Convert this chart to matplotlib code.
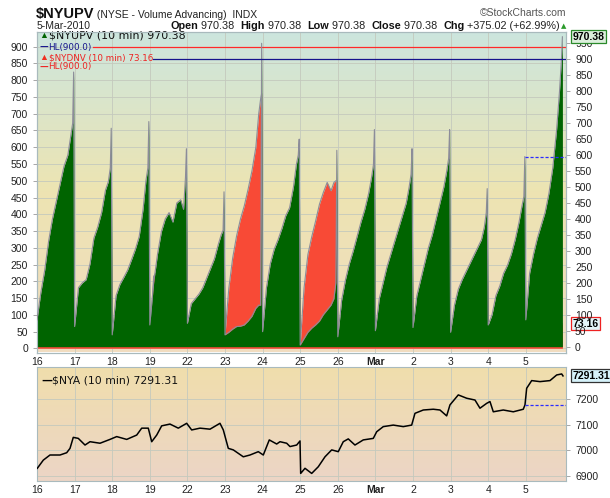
import numpy as np
import matplotlib.pyplot as plt
from matplotlib.colors import LinearSegmentedColormap

plt.rcParams['font.family'] = ['Liberation Sans', 'DejaVu Sans']

# trading days on the x axis
day_labels = ['16', '17', '18', '19', '22', '23', '24', '25', '26', 'Mar', '2', '3', '4', '5']

# 10-min bar index inside a session (39 bars/day) at which values were read
bar_idx = [0, 4, 8, 12, 16, 20, 24, 28, 32, 35, 37, 38]
BARS_PER_DAY = 39

# $NYUPV cumulative advancing volume, one row per day (right scale)
upv_days = [
    [84, 170, 240, 330, 400, 455, 510, 565, 600, 660, 700, 860],
    [63, 185, 200, 210, 260, 340, 375, 420, 490, 517, 560, 684],
    [37, 160, 195, 217, 240, 272, 305, 345, 430, 520, 560, 705],
    [68, 200, 290, 360, 400, 420, 390, 450, 460, 430, 530, 620],
    [73, 135, 150, 165, 185, 215, 245, 275, 320, 350, 365, 485],
    [37, 45, 55, 63, 64, 68, 80, 95, 120, 130, 130, 950],
    [47, 185, 260, 305, 335, 370, 410, 435, 500, 570, 600, 650],
    [5, 25, 45, 58, 68, 80, 100, 115, 130, 150, 200, 615],
    [31, 146, 210, 260, 300, 345, 390, 430, 480, 530, 570, 680],
    [50, 150, 200, 250, 290, 330, 370, 410, 450, 500, 540, 620],
    [60, 160, 210, 260, 310, 350, 400, 450, 500, 550, 590, 680],
    [45, 130, 180, 210, 235, 260, 285, 310, 335, 375, 420, 495],
    [68, 100, 160, 190, 230, 255, 290, 335, 390, 440, 470, 595.36],
    [84, 230, 290, 340, 380, 420, 480, 560, 680, 800, 900, 970.38],
]

# $NYDNV cumulative declining volume (left scale)
dnv_days = [
    [10, 60, 100, 140, 170, 200, 230, 260, 280, 300, 320, 380],
    [10, 90, 120, 150, 180, 220, 250, 280, 310, 330, 350, 420],
    [10, 80, 110, 140, 170, 200, 230, 260, 300, 330, 350, 420],
    [15, 215, 230, 250, 270, 290, 300, 320, 330, 340, 350, 400],
    [10, 60, 80, 100, 120, 140, 160, 180, 200, 220, 240, 300],
    [40, 180, 270, 335, 385, 425, 475, 530, 600, 700, 745, 760],
    [20, 80, 120, 150, 180, 210, 240, 270, 300, 340, 370, 420],
    [10, 180, 280, 333, 380, 430, 465, 495, 470, 495, 500, 500],
    [15, 70, 110, 150, 180, 210, 240, 270, 300, 330, 360, 420],
    [15, 70, 100, 130, 160, 190, 220, 250, 280, 310, 340, 400],
    [15, 70, 100, 130, 160, 190, 220, 250, 280, 310, 340, 400],
    [15, 60, 90, 110, 130, 150, 170, 190, 210, 230, 250, 300],
    [15, 50, 80, 100, 120, 140, 160, 180, 200, 220, 240, 290],
    [5, 20, 30, 40, 45, 50, 55, 60, 65, 70, 72, 73.16],
]

# $NYA (10 min), time in trading days from the 16th
nya_t = [0.008, 0.168, 0.346, 0.612, 0.790, 0.878, 0.965, 1.098, 1.277, 1.410,
         1.676, 1.941, 2.120, 2.386, 2.652, 2.785, 2.960, 3.051, 3.184, 3.316,
         3.537, 3.758, 3.981, 4.114, 4.335, 4.601, 4.867, 4.955, 5.088, 5.221,
         5.487, 5.665, 5.886, 6.019, 6.178, 6.375, 6.463, 6.641, 6.729, 6.907,
         6.995, 7.013, 7.128, 7.306, 7.481, 7.660, 7.838, 8.013, 8.146, 8.279,
         8.457, 8.678, 8.944, 9.035, 9.210, 9.476, 9.742, 9.965, 10.053, 10.274,
         10.540, 10.718, 10.896, 10.984, 11.205, 11.428, 11.649, 11.782, 11.960, 12.048,
         12.136, 12.402, 12.668, 12.934, 12.979, 13.024, 13.157, 13.378, 13.644, 13.822,
         13.955, 13.99]
nya_v = [6930, 6962, 6982, 6982, 6991, 7008, 7051, 7047, 7021, 7034,
         7028, 7043, 7054, 7043, 7060, 7087, 7087, 7034, 7060, 7096,
         7103, 7087, 7106, 7080, 7087, 7083, 7106, 7080, 7008, 7002,
         6975, 6982, 6995, 6982, 7041, 7025, 7034, 7028, 7015, 7021,
         7037, 6910, 6930, 6910, 6936, 6975, 7002, 6995, 7034, 7045,
         7021, 7041, 7047, 7073, 7093, 7099, 7093, 7099, 7145, 7158,
         7161, 7158, 7135, 7178, 7217, 7204, 7197, 7165, 7184, 7191,
         7151, 7158, 7151, 7161, 7178, 7243, 7273, 7269, 7273, 7295,
         7299, 7291.31]

upv_last, upv_prev = 970.38, 595.36
dnv_last = 73.16
nya_last, nya_prev = 7291.31, 7178
hl_level = 900.0


def day_series(days):
    xs, ys = [], []
    for d, vals in enumerate(days):
        for b, v in zip(bar_idx, vals):
            xs.append(d + b / BARS_PER_DAY)
            ys.append(v)
    return np.array(xs), np.array(ys)


W, H = 610, 498
fig = plt.figure(figsize=(W / 100, H / 100), dpi=100)
fig.patch.set_facecolor('white')


def px_box(x0, y0, x1, y1):
    return [x0 / W, 1 - y1 / H, (x1 - x0) / W, (y1 - y0) / H]


ax = fig.add_axes(px_box(37, 32, 566, 352.5))
ax2 = ax.twinx()
ax3 = fig.add_axes(px_box(37, 367.3, 566, 480.7), sharex=ax)

XMAX = 14.07
grad = np.linspace(0, 1, 256).reshape(-1, 1)
top_cmap = LinearSegmentedColormap.from_list('top', ['#f1dcc0', '#ede4b2', '#cce6de'])
bot_cmap = LinearSegmentedColormap.from_list('bot', ['#ecd5c6', '#f0deac'])
ax.imshow(grad, extent=[0, 1, 0, 1], transform=ax.transAxes, origin='lower',
          aspect='auto', cmap=top_cmap, zorder=0)
ax3.imshow(grad, extent=[0, 1, 0, 1], transform=ax3.transAxes, origin='lower',
           aspect='auto', cmap=bot_cmap, zorder=0)

xu, yu = day_series(upv_days)
xd, yd = day_series(dnv_days)

edge = '#8c8c99'
ax.fill_between(xd, 0, yd, color='#f84a36', lw=0, zorder=2)
ax.plot(xd, yd, color=edge, lw=0.8, zorder=3)
ax2.fill_between(xu, 0, yu, color='#006400', lw=0, zorder=2)
ax2.plot(xu, yu, color=edge, lw=0.8, zorder=3)

ax.axhline(hl_level, xmin=0.106, color='#ff2a2a', lw=0.9, zorder=4)
ax2.axhline(hl_level, xmin=0.219, color='#14148c', lw=0.9, zorder=4)
t_prev = len(upv_days) - 2 + bar_idx[-1] / BARS_PER_DAY
ax2.hlines(upv_prev, t_prev, XMAX, colors='#2b2bff', linestyles=(0, (2.5, 1.5)), lw=0.9, zorder=4)

ax3.plot(nya_t, nya_v, color='black', lw=1.1, zorder=3)
ax3.hlines(nya_prev, t_prev, XMAX, colors='#2b2bff', linestyles=(0, (2.5, 1.5)), lw=0.9, zorder=4)

ax.set_xlim(0, XMAX)
ax.set_ylim(-12.5, 943.9)
ax2.set_ylim(-18.2, 985.4)
ax3.set_ylim(6881.5, 7325)

gcol = '#c4c9bd'
ax.set_axisbelow(True)
ax.set_yticks(np.arange(0, 901, 50))
ax2.set_yticks(np.arange(0, 951, 50))
ax.grid(True, color=gcol, lw=0.6)
ax3.set_axisbelow(True)
ax3.set_yticks([6900, 7000, 7100, 7200])
ax3.grid(True, color=gcol, lw=0.6)
ax.set_xticks(range(len(day_labels)))
ax.set_xticklabels(day_labels)

for a in (ax, ax2, ax3):
    for s in a.spines.values():
        s.set_color('#a9babd')
        s.set_linewidth(0.8)
    a.tick_params(labelsize=7.5, labelcolor='#222222', color='#999999', length=3, width=0.6)
ax.tick_params(axis='x', length=0, pad=3)
ax3.tick_params(axis='x', length=0, pad=3, labelbottom=True)
ax3.tick_params(axis='y', left=False, labelleft=False, right=True, labelright=True)
for a in (ax, ax3):
    for lab in a.get_xticklabels():
        if lab.get_text() == 'Mar':
            lab.set_fontweight('bold')


def ax_pt(x, y):
    return (x - 37) / 529, (352.5 - y) / 320.5


# legends
big = dict(family='DejaVu Sans', fontsize=7.9, va='center', transform=ax.transAxes, zorder=6)
small = dict(family='DejaVu Sans', fontsize=6.3, va='center', transform=ax.transAxes, zorder=6)
ax.text(*ax_pt(39, 35.5), '\u25b2', color='#006400', fontsize=6.5, va='center', transform=ax.transAxes, zorder=6)
ax.text(*ax_pt(49, 35.5), f'$NYUPV (10 min) {upv_last:.2f}', color='#111111', **big)
ax.text(*ax_pt(39, 47.3), '\u2014', color='#14148c', fontweight='bold', **small)
ax.text(*ax_pt(48, 47.3), f'HL({hl_level:.1f})', color='#14148c', **small)
ax.text(*ax_pt(39, 57.5), '\u25b2', color='#f03020', fontsize=6.5, va='center', transform=ax.transAxes, zorder=6)
ax.text(*ax_pt(49, 57.5), f'$NYDNV (10 min) {dnv_last:.2f}', color='#ee2222', **small)
ax.text(*ax_pt(39, 67), '\u2014', color='#ee2222', fontweight='bold', **small)
ax.text(*ax_pt(48, 67), f'HL({hl_level:.1f})', color='#ee2222', **small)

ax3.text(0.008, 0.88, '\u2014', color='black', fontweight='bold', family='DejaVu Sans',
         fontsize=7.8, va='center', transform=ax3.transAxes)
ax3.text(0.028, 0.88, f'$NYA (10 min) {nya_last:.2f}', color='#111111', family='DejaVu Sans',
         fontsize=7.8, va='center', transform=ax3.transAxes)

# last value boxes
box = dict(fontsize=7.5, fontweight='bold', va='center', ha='left', textcoords='offset points',
           xytext=(4.5, 0), annotation_clip=False, zorder=8)
ax2.annotate(f'{upv_last:.2f}', xy=(1, upv_last), xycoords=('axes fraction', 'data'),
             bbox=dict(boxstyle='square,pad=0.15', fc='#dcefdc', ec='#2a8a2a', lw=0.9), **box)
ax.annotate(f'{dnv_last:.2f}', xy=(1, dnv_last), xycoords=('axes fraction', 'data'),
            bbox=dict(boxstyle='square,pad=0.15', fc='#e4f4f8', ec='#ee2222', lw=0.9), **box)
ax3.annotate(f'{nya_last:.2f}', xy=(1, nya_last), xycoords=('axes fraction', 'data'),
             bbox=dict(boxstyle='square,pad=0.15', fc='#d6f2fa', ec='#333333', lw=0.9), **box)

# header
renderer = fig.canvas.get_renderer()


def run(x, y, parts, right=False):
    items = []
    for txt, wt, col, sz in parts:
        t = fig.text(0, 1 - y / H, txt, fontweight=wt, color=col, fontsize=sz, va='baseline')
        w = t.get_window_extent(renderer).width
        items.append((t, w))
    total = sum(w for _, w in items)
    cx = x - total if right else x
    for t, w in items:
        t.set_x(cx / W)
        cx += w


run(36, 18, [('$NYUPV', 'bold', '#111111', 10.5),
             (' (NYSE - Volume Advancing)  INDX', 'normal', '#222222', 7.5)])
run(566, 16, [('\u00a9StockCharts.com', 'normal', '#555555', 7.5)], right=True)
run(37, 29, [('5-Mar-2010', 'normal', '#222222', 7.5)])
hs = 7.8
run(560, 29, [('Open', 'bold', '#111111', hs), (' 970.38  ', 'normal', '#222222', hs),
              ('High', 'bold', '#111111', hs), (' 970.38  ', 'normal', '#222222', hs),
              ('Low', 'bold', '#111111', hs), (' 970.38  ', 'normal', '#222222', hs),
              ('Close', 'bold', '#111111', hs), (' 970.38  ', 'normal', '#222222', hs),
              ('Chg', 'bold', '#111111', hs), (' +375.02 (+62.99%)', 'normal', '#222222', hs)],
    right=True)
fig.text(561 / W, 1 - 28.5 / H, '\u25b2', color='#2a9a2a', fontsize=5, family='DejaVu Sans', va='baseline')

fig.savefig('out.png', dpi=100)
